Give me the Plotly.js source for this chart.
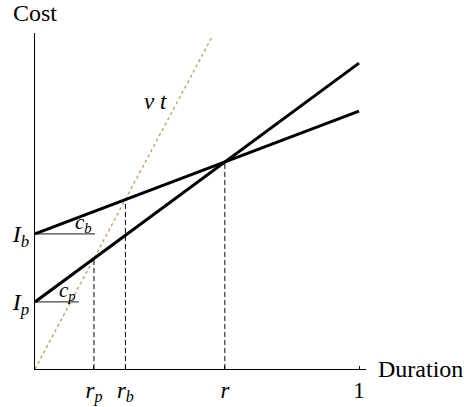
<!DOCTYPE html>
<html>
<head>
<meta charset="utf-8">
<script src="https://cdn.plot.ly/plotly-3.0.1.min.js"></script>
<style>html,body{margin:0;padding:0;background:#fff;}#chart{width:464px;height:407px;}</style>
</head>
<body>
<div id="chart"></div>
<script>
// Duration domain endpoints
const durationEnds = [0, 1];
// Cost lines (values at duration 0 and 1)
const bidCost = [0.417, 0.796];   // I_b + c_b t
const payCost = [0.207, 0.944];   // I_p + c_p t
// v t line
const vtX = [0, 0.549];
const vtY = [0, 1.03];
// Break-even points
const breakX = [0.182, 0.279, 0.586];      // r_p, r_b, r
const breakY = [0.341, 0.523, 0.639];
// Slope markers (horizontal segments from intercepts)
const cbSeg = [0, 0.185];
const cpSeg = [0, 0.135];
// Tick labels
const xTickVals = [0.182, 0.279, 0.586, 1];
const xTickText = ['<i>r</i><sub><i>p</i></sub>', '<i>r</i><sub><i>b</i></sub>', '<i>r</i>', '1'];
const yTickVals = [0.207, 0.417];
const yTickText = ['<i>I</i><sub><i>p</i></sub>', '<i>I</i><sub><i>b</i></sub>'];

const FONT = '"Liberation Serif", "Times New Roman", Times, serif';
const traces = [];
// vertical dashed lines
for (let i = 0; i < breakX.length; i++) {
  traces.push({x: [breakX[i], breakX[i]], y: [0, breakY[i]], mode: 'lines',
    line: {color: '#000', width: 1, dash: '5px,3px'}, hoverinfo: 'skip'});
}
traces.push({x: vtX, y: vtY, mode: 'lines', line: {color: '#b9a35e', width: 1.4, dash: 'dot'}, hoverinfo: 'skip'});
traces.push({x: cbSeg, y: [bidCost[0], bidCost[0]], mode: 'lines', line: {color: '#444', width: 1.3}, hoverinfo: 'skip'});
traces.push({x: cpSeg, y: [payCost[0], payCost[0]], mode: 'lines', line: {color: '#444', width: 1.3}, hoverinfo: 'skip'});
traces.push({x: durationEnds, y: bidCost, mode: 'lines', line: {color: '#000', width: 3}, hoverinfo: 'skip'});
traces.push({x: durationEnds, y: payCost, mode: 'lines', line: {color: '#000', width: 3}, hoverinfo: 'skip'});

const layout = {
  width: 464, height: 407,
  margin: {l: 35, r: 98, t: 33, b: 38},
  showlegend: false,
  paper_bgcolor: '#fff', plot_bgcolor: '#fff',
  font: {family: FONT, size: 22, color: '#000'},
  xaxis: {range: [0, 1.0216], showgrid: false, zeroline: false, showline: true, linecolor: '#000', linewidth: 1,
    tickvals: xTickVals, ticktext: xTickText, ticks: 'inside', ticklen: 3, tickcolor: '#000',
    tickfont: {family: FONT, size: 23}, fixedrange: true},
  yaxis: {range: [0, 1.037], showgrid: false, zeroline: false, showline: true, linecolor: '#000', linewidth: 1,
    tickvals: yTickVals, ticktext: yTickText, ticks: '',
    tickfont: {family: FONT, size: 24}, fixedrange: true},
  annotations: [
    {xref: 'paper', yref: 'paper', x: 0, y: 1.0595, xanchor: 'center', yanchor: 'middle', text: 'Cost', showarrow: false, font: {family: FONT, size: 24}},
    {xref: 'paper', yref: 'paper', x: 1.03, y: 0, xanchor: 'left', yanchor: 'middle', text: 'Duration', showarrow: false, font: {family: FONT, size: 24}},
    {x: 0.151, y: 0.452, text: '<i>c</i><sub><i>b</i></sub>', showarrow: false, xanchor: 'center', yanchor: 'middle', font: {family: FONT, size: 21}},
    {x: 0.099, y: 0.240, text: '<i>c</i><sub><i>p</i></sub>', showarrow: false, xanchor: 'center', yanchor: 'middle', font: {family: FONT, size: 21}},
    {x: 0.373, y: 0.827, text: '<i>v t</i>', showarrow: false, xanchor: 'center', yanchor: 'middle', font: {family: FONT, size: 23}}
  ]
};
Plotly.newPlot('chart', traces, layout, {displayModeBar: false, staticPlot: true});
</script>
</body>
</html>
